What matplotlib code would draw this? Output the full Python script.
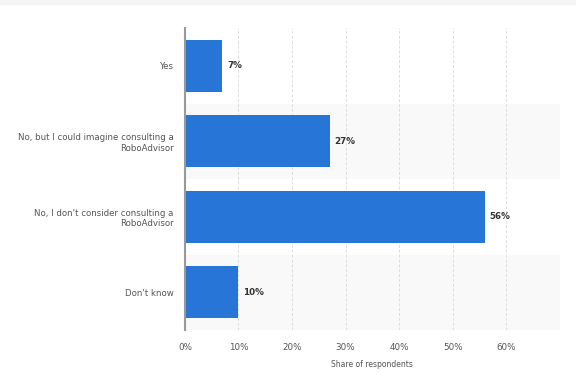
import matplotlib.pyplot as plt
import matplotlib.patches as mpatches

categories = ["Yes", "No, but I could imagine consulting a\nRoboAdvisor",
              "No, I don't consider consulting a\nRoboAdvisor", "Don't know"]
values = [7, 27, 56, 10]
ticks = [0, 10, 20, 30, 40, 50, 60]
tick_labels = [f"{t}%" for t in ticks]

fig = plt.figure(figsize=(5.76, 3.91), dpi=100)
fig.patches.append(mpatches.Rectangle((0, 0.99), 1, 0.01, transform=fig.transFigure,
                                      color="#f3f4f6", zorder=0))
ax = fig.add_axes([0.321, 0.156, 0.651, 0.772])

y = list(range(len(categories)))
# alternating row bands
for i in y:
    if i % 2 == 1:
        ax.axhspan(i - 0.5, i + 0.5, color="#f9f9f9", zorder=0, lw=0)

ax.barh(y, values, height=0.69, color="#2875d8", zorder=3)
for yi, v in zip(y, values):
    ax.text(v + 0.9, yi, f"{v}%", va="center", ha="left", fontsize=6.3,
            fontweight="bold", color="#333333", zorder=4)

ax.set_ylim(len(categories) - 0.5, -0.5)
ax.set_xlim(0, 70)
ax.set_yticks(y)
ax.set_yticklabels(categories, fontsize=6.2, color="#555555")
ax.set_xticks(ticks)
ax.set_xticklabels(tick_labels, fontsize=6.3, color="#555555")
ax.tick_params(length=0, pad=9)
ax.tick_params(axis="y", pad=8)
ax.set_xlabel("Share of respondents", fontsize=5.5, color="#555555", labelpad=6)

ax.grid(axis="x", color="#dddddd", linestyle=(0, (3, 2)), linewidth=0.7, zorder=1)
for s in ["top", "right", "bottom"]:
    ax.spines[s].set_visible(False)
ax.spines["left"].set_color("#999999")
ax.spines["left"].set_linewidth(1.5)
ax.spines["left"].set_zorder(5)

fig.savefig("out.png", dpi=100)
